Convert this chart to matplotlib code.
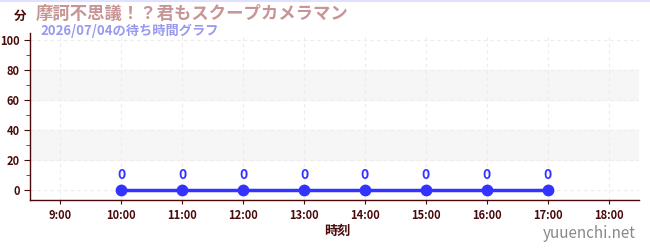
import matplotlib.pyplot as plt
import numpy as np
from matplotlib.ticker import MultipleLocator

plt.rcParams['font.family'] = ['Noto Sans CJK JP', 'DejaVu Sans']

# データ
hours = [10, 11, 12, 13, 14, 15, 16, 17]
waits = [0, 0, 0, 0, 0, 0, 0, 0]
xtick_hours = list(range(9, 19))
xtick_labels = [f"{h}:00" for h in xtick_hours]

title = "摩訶不思議！？君もスクープカメラマン"
subtitle = "2026/07/04の待ち時間グラフ"

dark = '#4a0a0a'

fig = plt.figure(figsize=(6.5, 2.5), dpi=100)
ax = fig.add_axes([30/650, 1-200/250, 609/650, 167/250])

# 帯
for lo, hi in [(20, 40), (60, 80)]:
    ax.axhspan(lo, hi, color='#f6f6f6', zorder=0)

ax.plot(hours, waits, color='#3333ff', lw=2.5, marker='o', ms=7.5, zorder=3)
for h, w in zip(hours, waits):
    ax.annotate(str(w), (h, w), xytext=(0, 6), textcoords='offset points',
                ha='center', va='bottom', color='#3333ff', fontsize=10, fontweight='bold')

ax.set_xlim(8.5, 18.5)
ax.set_ylim(-6.7, 105)
ax.set_xticks(xtick_hours)
ax.set_xticklabels(xtick_labels)
ax.yaxis.set_major_locator(MultipleLocator(20))
ax.yaxis.set_minor_locator(MultipleLocator(10))
ax.tick_params(axis='both', colors=dark, labelsize=8, length=4, width=0.8)
ax.tick_params(axis='y', which='minor', colors='#cc0000', length=3)
ax.tick_params(axis='x', length=3)
for lab in ax.get_xticklabels() + ax.get_yticklabels():
    lab.set_fontweight('bold')
    lab.set_color(dark)

ax.grid(True, which='major', color='#ececec', ls=(0, (3, 3)), lw=0.8)
for s in ['top', 'right']:
    ax.spines[s].set_visible(False)
for s in ['left', 'bottom']:
    ax.spines[s].set_color(dark)
    ax.spines[s].set_linewidth(1)

fig.text(14/650, 1-16/250, "分", color=dark, fontsize=9, fontweight='bold', ha='left', va='center')
fig.text(36/650, 1-14/250, title, color='#c89595', fontsize=12.5, fontweight='bold', ha='left', va='center')
fig.text(40/650, 1-31/250, subtitle, color='#9999ee', fontsize=9.5, fontweight='bold', ha='left', va='center')
fig.text(337/650, 1-231/250, "時刻", color=dark, fontsize=9.5, fontweight='bold', ha='center', va='center')
fig.text(636/650, 1-234/250, "yuuenchi.net", color='#888888', fontsize=11, ha='right', va='center')

fig.add_artist(plt.Line2D([0, 1], [0.998, 0.998], color='#e0e0ff', lw=1.5, transform=fig.transFigure))

fig.savefig('out.png', dpi=100)
